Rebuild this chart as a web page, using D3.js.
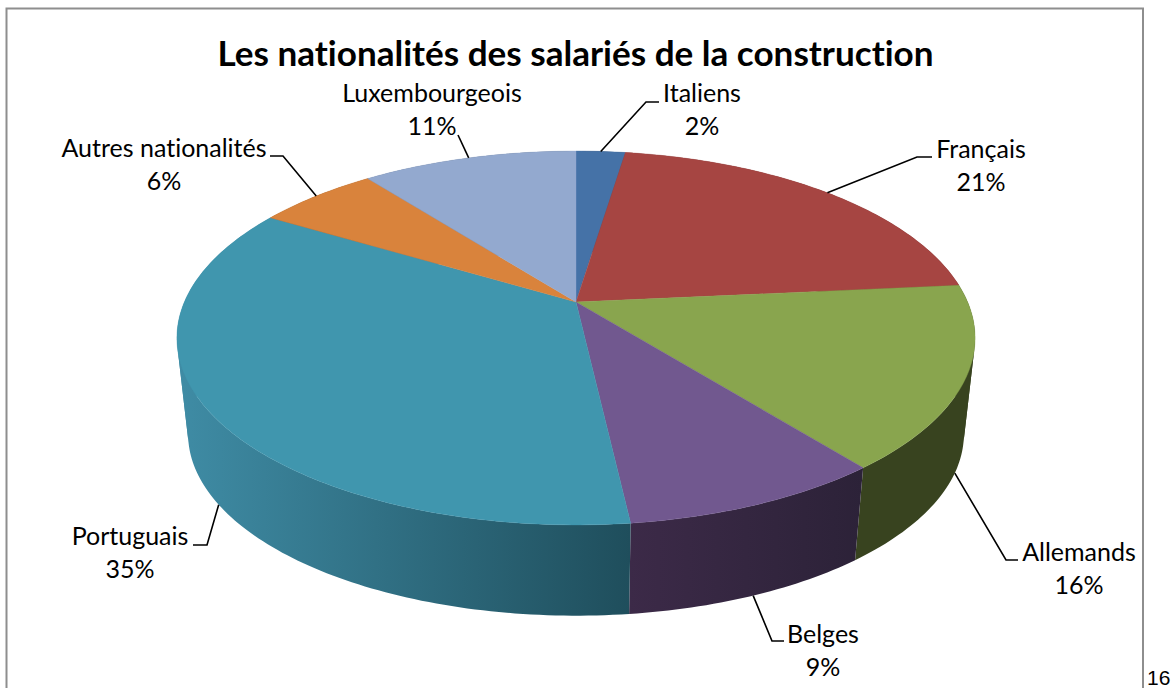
<!DOCTYPE html>
<html><head><meta charset="utf-8">
<script src="https://cdnjs.cloudflare.com/ajax/libs/d3/7.8.5/d3.min.js"></script>
<style>html,body{margin:0;padding:0;background:#fff;overflow:hidden}svg{display:block}text{font-variant-ligatures:none}</style>
</head><body>
<svg id="c" width="1171" height="688"></svg>
<script>
const categories = ["Italiens","Français","Allemands","Belges","Portuguais","Autres nationalités","Luxembourgeois"];
const values = [2.4,21.1,15.8,8.9,35.4,5.9,10.5];
const topColors = ["#4572A7","#A64542","#89A54E","#71588F","#4096AE","#D9833C","#93A9CF"];
const sideColors = [["#2b4566","#2b4566"],["#682a28","#682a28"],["#38431F","#38431F"],["#2c2238","#3c2a48"],["#1f4e5c","#3f8ca5"],["#85501f","#85501f"],["#596780","#596780"]];
const titleText = "Les nationalités des salariés de la construction";
const pageNumber = "16";

const layout = [
 {cx:702,by:102,ex:646,ee:659,ey:102,rim:"top"},
 {cx:981,by:158,ex:917,ee:932,ey:157,rim:"top"},
 {cx:1079,by:561,ex:1006,ee:1018,ey:560,rim:"bottom"},
 {cx:823,by:643,ex:772,ee:784,ey:641,rim:"bottom"},
 {cx:130,by:545,ex:207,ee:193,ey:545,rim:"bottom"},
 {cx:164,by:157,ex:283,ee:270,ey:156,rim:"top"},
 {cx:432,by:102,ex:458,ee:458,ey:135,rim:"top"}
];

const svg = d3.select("#c");
const defs = svg.append("defs");
const CX=576, A=391.6, B=180, K=0.1925, TOPY=302, BOTY=399, S=0.972;
function project(theta, disc){
  const u=Math.sin(theta), v=-Math.cos(theta), w=1-K*v;
  return disc==="top"
    ? [CX+A*u/w, TOPY+B*v/w]
    : [CX+S*A*u/w, BOTY+S*B*v/w];
}
const pie = d3.pie().sort(null).value(d=>d);
const arcs = pie(values);
const line = d3.line();
function rim(a,disc){
  const n=Math.max(2,Math.ceil((a.endAngle-a.startAngle)/(Math.PI/180)));
  return d3.range(n+1).map(i=>project(a.startAngle+(a.endAngle-a.startAngle)*i/n,disc));
}
svg.append("path").attr("d","M6.5,688V8.5H1143V688").attr("fill","none").attr("stroke","#8e8e8e").attr("stroke-width",2);

arcs.forEach((a,i)=>{
  const t=rim(a,"top"), b=rim(a,"bottom");
  const xs=t.concat(b).map(p=>p[0]);
  const id="side"+i;
  const g=defs.append("linearGradient").attr("id",id).attr("gradientUnits","userSpaceOnUse")
    .attr("x1",d3.max(xs)).attr("x2",d3.min(xs)).attr("y1",0).attr("y2",0);
  g.append("stop").attr("offset",0).attr("stop-color",sideColors[i][0]);
  g.append("stop").attr("offset",1).attr("stop-color",sideColors[i][1]);
  // split the ribbon where it folds over, so that no part cancels out
  const sign=k=>Math.sign((t[k+1][0]-t[k][0])*(b[k][1]-t[k][1])-(t[k+1][1]-t[k][1])*(b[k][0]-t[k][0]));
  let start=0;
  d3.range(1,t.length).forEach(k=>{
    if(k===t.length-1 || sign(k)!==sign(start)){
      const top=t.slice(start,k+1), bot=b.slice(start,k+1).reverse();
      svg.append("path").attr("d",line(top.concat(bot))+"Z").attr("fill",`url(#${id})`);
      start=k;
    }
  });
});
arcs.forEach((a,i)=>{
  const pts=[[CX,TOPY]].concat(rim(a,"top"));
  svg.append("path").attr("d",line(pts)+"Z").attr("fill",topColors[i]).attr("stroke",topColors[i]).attr("stroke-width",0.4);
});
arcs.forEach((a,i)=>{
  const l=layout[i], mid=(a.startAngle+a.endAngle)/2;
  const p=project(mid,l.rim);
  svg.append("path").attr("d",line([p,[l.ex,l.ey],[l.ee,l.ey]])).attr("fill","none").attr("stroke","#000").attr("stroke-width",1.6);
});
const font="Lato, Carlito, sans-serif";
arcs.forEach((a,i)=>{
  const l=layout[i];
  const t=svg.append("text").attr("text-anchor","middle").attr("font-family",font).attr("font-size",25).attr("fill","#000");
  t.append("tspan").attr("x",l.cx).attr("y",l.by).text(categories[i]);
  t.append("tspan").attr("x",l.cx).attr("y",l.by+33).text(Math.round(values[i])+"%");
});
svg.append("text").attr("x",575.5).attr("y",66).attr("text-anchor","middle").attr("font-family",font)
  .attr("font-weight",700).attr("font-size",35.1).attr("fill","#000").text(titleText);
svg.append("text").attr("x",1147).attr("y",685).attr("font-family","'Liberation Sans',Arial,sans-serif")
  .attr("font-size",21).attr("fill","#000").text(pageNumber);
</script>
</body></html>
